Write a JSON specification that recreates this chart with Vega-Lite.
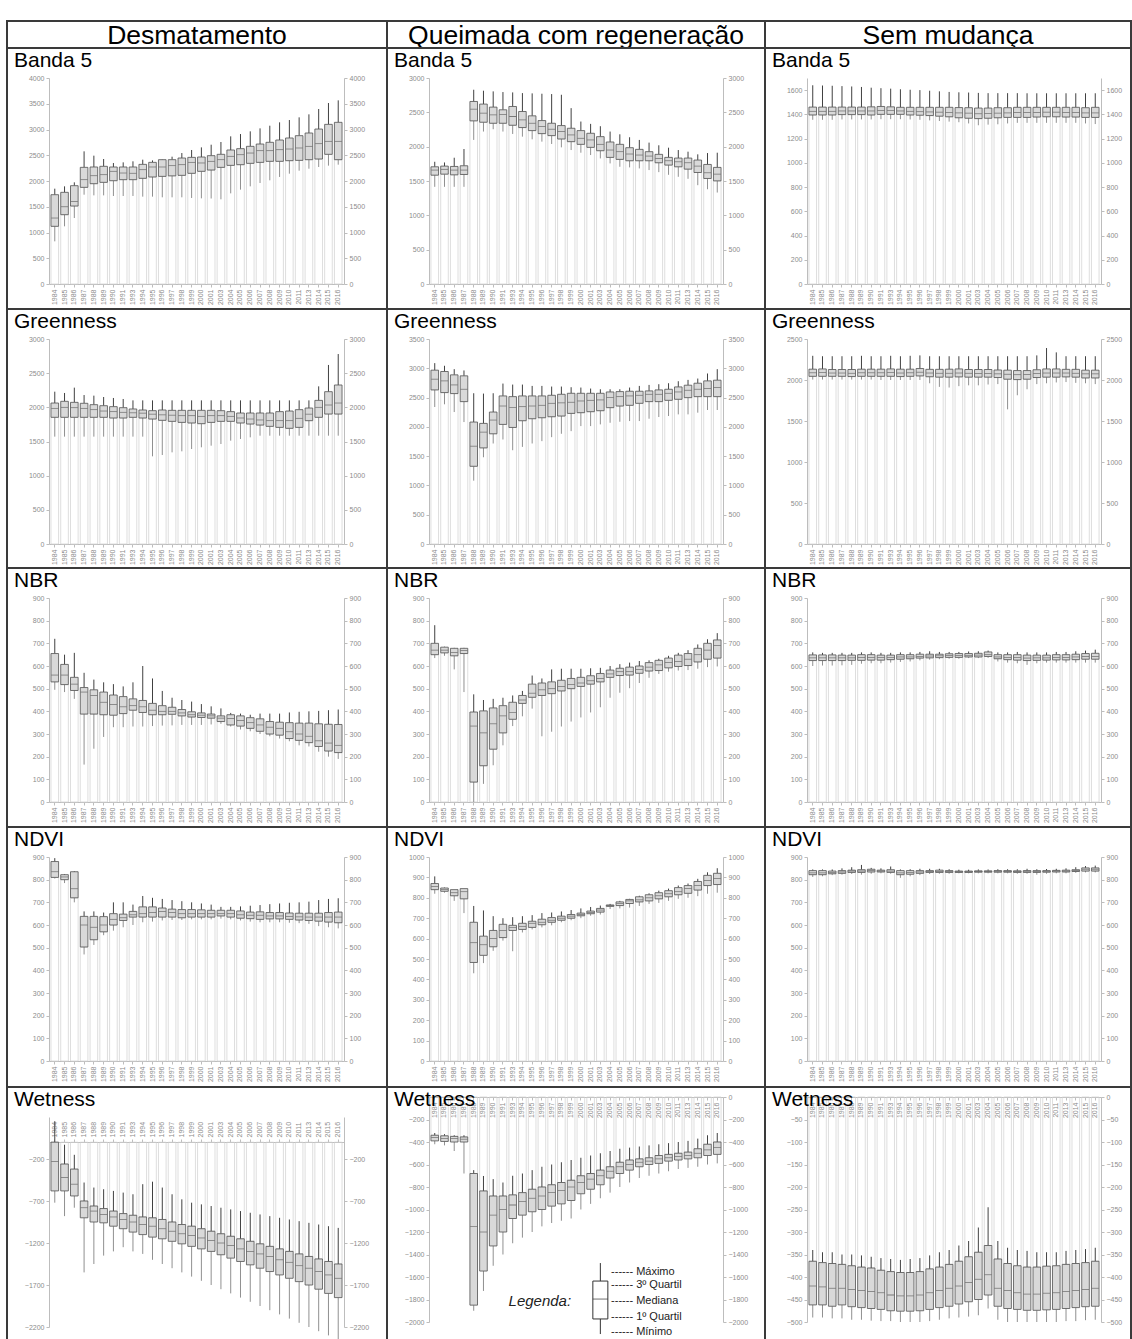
{
"$schema":"https://vega.github.io/schema/vega-lite/v6.json",
"background":"white",
"padding":{"left":6,"top":20,"right":0,"bottom":0},
"config":{
 "numberFormat":"d",
 "view":{"stroke":"#3a3a3a","strokeWidth":2},
 "axis":{"title":null,"labelFont":"Liberation Sans","labelFontSize":7,"labelColor":"#8c8c8c","domainColor":"#bdbdbd","tickColor":"#bdbdbd","tickSize":3,"gridColor":"#ececec","labelPadding":2,"labelOverlap":false},
 "axisX":{"labelAngle":-90,"grid":false},
 "axisY":{"grid":true},
 "title":{"font":"Liberation Sans","fontSize":21,"fontWeight":"normal","color":"#000000","anchor":"start","frame":"group","offset":-23,"baseline":"alphabetic","dx":7},
 "bar":{"fill":"#d9d9d9","stroke":"#505050","strokeWidth":0.8},
 "rule":{"color":"#404040"}
},
"datasets":{
"d1":[{"t":1984,"a":828,"b":1120,"m":1281,"c":1734,"x":1851},{"t":1985,"a":1120,"b":1346,"m":1500,"c":1780,"x":1896},{"t":1986,"a":1281,"b":1514,"m":1600,"c":1909,"x":1974},{"t":1987,"a":1734,"b":1877,"m":2026,"c":2265,"x":2576},{"t":1988,"a":1721,"b":1948,"m":2103,"c":2272,"x":2492},{"t":1989,"a":1721,"b":1974,"m":2123,"c":2285,"x":2427},{"t":1990,"a":1709,"b":2006,"m":2188,"c":2272,"x":2349},{"t":1991,"a":1709,"b":2026,"m":2155,"c":2272,"x":2362},{"t":1993,"a":1709,"b":2026,"m":2150,"c":2272,"x":2382},{"t":1994,"a":1696,"b":2052,"m":2220,"c":2323,"x":2414},{"t":1995,"a":1696,"b":2078,"m":2272,"c":2362,"x":2400},{"t":1996,"a":1683,"b":2090,"m":2272,"c":2414,"x":2420},{"t":1997,"a":1683,"b":2100,"m":2298,"c":2414,"x":2472},{"t":1998,"a":1683,"b":2110,"m":2317,"c":2446,"x":2543},{"t":1999,"a":1670,"b":2149,"m":2362,"c":2459,"x":2602},{"t":2000,"a":1663,"b":2188,"m":2350,"c":2466,"x":2653},{"t":2001,"a":1660,"b":2213,"m":2382,"c":2492,"x":2705},{"t":2003,"a":1644,"b":2265,"m":2414,"c":2518,"x":2757},{"t":2004,"a":1760,"b":2304,"m":2479,"c":2602,"x":2867},{"t":2005,"a":1832,"b":2317,"m":2511,"c":2628,"x":2912},{"t":2006,"a":1896,"b":2343,"m":2543,"c":2673,"x":2964},{"t":2007,"a":1961,"b":2362,"m":2589,"c":2718,"x":3022},{"t":2008,"a":2013,"b":2382,"m":2589,"c":2751,"x":3074},{"t":2009,"a":2078,"b":2382,"m":2608,"c":2796,"x":3139},{"t":2010,"a":2142,"b":2395,"m":2621,"c":2835,"x":3184},{"t":2011,"a":2200,"b":2401,"m":2641,"c":2880,"x":3236},{"t":2013,"a":2239,"b":2414,"m":2673,"c":2932,"x":3294},{"t":2014,"a":2272,"b":2427,"m":2725,"c":3009,"x":3398},{"t":2015,"a":2298,"b":2518,"m":2770,"c":3100,"x":3514},{"t":2016,"a":2317,"b":2414,"m":2770,"c":3139,"x":3566}],
"d2":[{"t":1984,"a":1415,"b":1585,"m":1659,"c":1707,"x":1780},{"t":1985,"a":1415,"b":1600,"m":1670,"c":1717,"x":1770},{"t":1986,"a":1415,"b":1590,"m":1659,"c":1712,"x":1839},{"t":1987,"a":1415,"b":1595,"m":1659,"c":1722,"x":1966},{"t":1988,"a":2098,"b":2376,"m":2546,"c":2658,"x":2829},{"t":1989,"a":2220,"b":2356,"m":2488,"c":2620,"x":2815},{"t":1990,"a":2254,"b":2341,"m":2463,"c":2576,"x":2805},{"t":1991,"a":2220,"b":2341,"m":2470,"c":2537,"x":2795},{"t":1993,"a":2185,"b":2312,"m":2439,"c":2585,"x":2790},{"t":1994,"a":2146,"b":2278,"m":2390,"c":2512,"x":2780},{"t":1995,"a":2107,"b":2234,"m":2341,"c":2449,"x":2776},{"t":1996,"a":2073,"b":2190,"m":2293,"c":2380,"x":2771},{"t":1997,"a":2039,"b":2161,"m":2254,"c":2341,"x":2766},{"t":1998,"a":1990,"b":2112,"m":2220,"c":2307,"x":2756},{"t":1999,"a":1951,"b":2073,"m":2171,"c":2268,"x":2561},{"t":2000,"a":1912,"b":2034,"m":2122,"c":2234,"x":2366},{"t":2001,"a":1878,"b":1990,"m":2098,"c":2195,"x":2332},{"t":2003,"a":1829,"b":1941,"m":2034,"c":2146,"x":2298},{"t":2004,"a":1756,"b":1844,"m":1951,"c":2068,"x":2220},{"t":2005,"a":1707,"b":1815,"m":1927,"c":2034,"x":2180},{"t":2006,"a":1698,"b":1795,"m":1893,"c":1985,"x":2137},{"t":2007,"a":1683,"b":1795,"m":1878,"c":1961,"x":2098},{"t":2008,"a":1659,"b":1795,"m":1863,"c":1927,"x":2059},{"t":2009,"a":1629,"b":1766,"m":1829,"c":1888,"x":2020},{"t":2010,"a":1590,"b":1732,"m":1795,"c":1844,"x":1985},{"t":2011,"a":1561,"b":1707,"m":1780,"c":1834,"x":1951},{"t":2013,"a":1532,"b":1673,"m":1766,"c":1834,"x":1927},{"t":2014,"a":1439,"b":1624,"m":1717,"c":1805,"x":1888},{"t":2015,"a":1380,"b":1537,"m":1620,"c":1741,"x":1907},{"t":2016,"a":1332,"b":1502,"m":1600,"c":1698,"x":1912}],
"d3":[{"t":1984,"a":1355,"b":1395,"m":1425,"c":1460,"x":1640},{"t":1985,"a":1355,"b":1395,"m":1425,"c":1460,"x":1638},{"t":1986,"a":1355,"b":1395,"m":1425,"c":1460,"x":1636},{"t":1987,"a":1358,"b":1398,"m":1428,"c":1460,"x":1633},{"t":1988,"a":1358,"b":1398,"m":1428,"c":1460,"x":1630},{"t":1989,"a":1358,"b":1398,"m":1428,"c":1460,"x":1626},{"t":1990,"a":1358,"b":1395,"m":1428,"c":1462,"x":1620},{"t":1991,"a":1360,"b":1400,"m":1432,"c":1465,"x":1616},{"t":1993,"a":1360,"b":1400,"m":1430,"c":1462,"x":1612},{"t":1994,"a":1360,"b":1400,"m":1428,"c":1458,"x":1607},{"t":1995,"a":1358,"b":1395,"m":1425,"c":1458,"x":1603},{"t":1996,"a":1355,"b":1393,"m":1422,"c":1458,"x":1600},{"t":1997,"a":1350,"b":1390,"m":1420,"c":1458,"x":1595},{"t":1998,"a":1345,"b":1385,"m":1418,"c":1458,"x":1590},{"t":1999,"a":1340,"b":1380,"m":1415,"c":1458,"x":1585},{"t":2000,"a":1335,"b":1372,"m":1412,"c":1456,"x":1582},{"t":2001,"a":1325,"b":1368,"m":1410,"c":1455,"x":1580},{"t":2003,"a":1310,"b":1365,"m":1405,"c":1452,"x":1577},{"t":2004,"a":1315,"b":1368,"m":1408,"c":1452,"x":1575},{"t":2005,"a":1318,"b":1372,"m":1410,"c":1455,"x":1575},{"t":2006,"a":1325,"b":1375,"m":1412,"c":1455,"x":1575},{"t":2007,"a":1330,"b":1375,"m":1415,"c":1458,"x":1575},{"t":2008,"a":1330,"b":1375,"m":1415,"c":1458,"x":1574},{"t":2009,"a":1330,"b":1378,"m":1415,"c":1458,"x":1574},{"t":2010,"a":1330,"b":1380,"m":1418,"c":1458,"x":1574},{"t":2011,"a":1330,"b":1380,"m":1418,"c":1458,"x":1574},{"t":2013,"a":1330,"b":1378,"m":1415,"c":1458,"x":1574},{"t":2014,"a":1330,"b":1378,"m":1415,"c":1458,"x":1574},{"t":2015,"a":1325,"b":1375,"m":1412,"c":1455,"x":1574},{"t":2016,"a":1320,"b":1375,"m":1412,"c":1458,"x":1574}],
"d4":[{"t":1984,"a":1571,"b":1854,"m":1985,"c":2063,"x":2229},{"t":1985,"a":1571,"b":1854,"m":2000,"c":2088,"x":2210},{"t":1986,"a":1571,"b":1854,"m":1995,"c":2073,"x":2288},{"t":1987,"a":1571,"b":1854,"m":1985,"c":2059,"x":2180},{"t":1988,"a":1571,"b":1854,"m":1966,"c":2039,"x":2171},{"t":1989,"a":1571,"b":1854,"m":1946,"c":2024,"x":2151},{"t":1990,"a":1571,"b":1844,"m":1937,"c":2010,"x":2137},{"t":1991,"a":1571,"b":1844,"m":1927,"c":1995,"x":2122},{"t":1993,"a":1571,"b":1854,"m":1920,"c":1976,"x":2102},{"t":1994,"a":1571,"b":1844,"m":1915,"c":1961,"x":2102},{"t":1995,"a":1283,"b":1829,"m":1900,"c":1951,"x":2102},{"t":1996,"a":1302,"b":1810,"m":1890,"c":1961,"x":2102},{"t":1997,"a":1341,"b":1795,"m":1885,"c":1956,"x":2102},{"t":1998,"a":1356,"b":1780,"m":1878,"c":1956,"x":2102},{"t":1999,"a":1390,"b":1771,"m":1878,"c":1956,"x":2102},{"t":2000,"a":1415,"b":1761,"m":1868,"c":1956,"x":2102},{"t":2001,"a":1439,"b":1780,"m":1878,"c":1956,"x":2102},{"t":2003,"a":1463,"b":1795,"m":1878,"c":1951,"x":2102},{"t":2004,"a":1512,"b":1795,"m":1868,"c":1937,"x":2102},{"t":2005,"a":1537,"b":1771,"m":1844,"c":1917,"x":2102},{"t":2006,"a":1561,"b":1756,"m":1829,"c":1917,"x":2102},{"t":2007,"a":1585,"b":1741,"m":1815,"c":1917,"x":2102},{"t":2008,"a":1585,"b":1722,"m":1805,"c":1917,"x":2102},{"t":2009,"a":1585,"b":1707,"m":1805,"c":1937,"x":2102},{"t":2010,"a":1585,"b":1693,"m":1805,"c":1946,"x":2102},{"t":2011,"a":1585,"b":1707,"m":1839,"c":1966,"x":2102},{"t":2013,"a":1585,"b":1805,"m":1900,"c":1990,"x":2102},{"t":2014,"a":1585,"b":1854,"m":2000,"c":2102,"x":2307},{"t":2015,"a":1585,"b":1902,"m":2034,"c":2229,"x":2620},{"t":2016,"a":1585,"b":1902,"m":2063,"c":2327,"x":2780}],
"d5":[{"t":1984,"a":2339,"b":2631,"m":2814,"c":2968,"x":3088},{"t":1985,"a":2385,"b":2585,"m":2785,"c":2945,"x":3043},{"t":1986,"a":2253,"b":2568,"m":2716,"c":2888,"x":2985},{"t":1987,"a":2082,"b":2431,"m":2642,"c":2871,"x":2963},{"t":1988,"a":1081,"b":1327,"m":1670,"c":2082,"x":2574},{"t":1989,"a":1481,"b":1641,"m":1910,"c":2059,"x":2568},{"t":1990,"a":1716,"b":1882,"m":2116,"c":2253,"x":2574},{"t":1991,"a":1784,"b":2042,"m":2356,"c":2528,"x":2739},{"t":1993,"a":1601,"b":1990,"m":2328,"c":2516,"x":2722},{"t":1994,"a":1658,"b":2105,"m":2345,"c":2528,"x":2722},{"t":1995,"a":1716,"b":2139,"m":2356,"c":2528,"x":2699},{"t":1996,"a":1756,"b":2156,"m":2368,"c":2528,"x":2699},{"t":1997,"a":1824,"b":2173,"m":2402,"c":2539,"x":2688},{"t":1998,"a":1882,"b":2185,"m":2410,"c":2556,"x":2688},{"t":1999,"a":1927,"b":2230,"m":2420,"c":2573,"x":2677},{"t":2000,"a":2013,"b":2242,"m":2442,"c":2573,"x":2671},{"t":2001,"a":2013,"b":2259,"m":2453,"c":2573,"x":2654},{"t":2003,"a":2042,"b":2276,"m":2460,"c":2573,"x":2642},{"t":2004,"a":2070,"b":2328,"m":2499,"c":2596,"x":2642},{"t":2005,"a":2087,"b":2356,"m":2516,"c":2602,"x":2642},{"t":2006,"a":2099,"b":2368,"m":2528,"c":2608,"x":2671},{"t":2007,"a":2099,"b":2402,"m":2539,"c":2608,"x":2699},{"t":2008,"a":2139,"b":2431,"m":2556,"c":2614,"x":2716},{"t":2009,"a":2168,"b":2431,"m":2556,"c":2631,"x":2728},{"t":2010,"a":2185,"b":2453,"m":2573,"c":2642,"x":2745},{"t":2011,"a":2213,"b":2471,"m":2596,"c":2682,"x":2779},{"t":2013,"a":2213,"b":2499,"m":2625,"c":2711,"x":2802},{"t":2014,"a":2242,"b":2516,"m":2642,"c":2745,"x":2825},{"t":2015,"a":2288,"b":2516,"m":2654,"c":2785,"x":2911},{"t":2016,"a":2288,"b":2516,"m":2671,"c":2797,"x":2985}],
"d6":[{"t":1984,"a":2005,"b":2045,"m":2088,"c":2132,"x":2295},{"t":1985,"a":2005,"b":2045,"m":2090,"c":2135,"x":2290},{"t":1986,"a":2005,"b":2045,"m":2085,"c":2128,"x":2290},{"t":1987,"a":2005,"b":2045,"m":2085,"c":2128,"x":2290},{"t":1988,"a":2005,"b":2042,"m":2082,"c":2128,"x":2290},{"t":1989,"a":2005,"b":2045,"m":2088,"c":2132,"x":2295},{"t":1990,"a":2005,"b":2045,"m":2088,"c":2132,"x":2290},{"t":1991,"a":2000,"b":2045,"m":2088,"c":2132,"x":2290},{"t":1993,"a":2000,"b":2045,"m":2090,"c":2135,"x":2295},{"t":1994,"a":2000,"b":2042,"m":2085,"c":2132,"x":2290},{"t":1995,"a":2000,"b":2045,"m":2088,"c":2132,"x":2295},{"t":1996,"a":2000,"b":2050,"m":2095,"c":2140,"x":2300},{"t":1997,"a":1960,"b":2040,"m":2085,"c":2130,"x":2290},{"t":1998,"a":1916,"b":2035,"m":2082,"c":2130,"x":2290},{"t":1999,"a":1908,"b":2035,"m":2082,"c":2132,"x":2290},{"t":2000,"a":1925,"b":2038,"m":2085,"c":2135,"x":2290},{"t":2001,"a":1935,"b":2035,"m":2082,"c":2128,"x":2290},{"t":2003,"a":1935,"b":2035,"m":2080,"c":2128,"x":2290},{"t":2004,"a":1945,"b":2035,"m":2080,"c":2128,"x":2290},{"t":2005,"a":1950,"b":2030,"m":2075,"c":2122,"x":2290},{"t":2006,"a":1642,"b":2010,"m":2070,"c":2120,"x":2290},{"t":2007,"a":1814,"b":2005,"m":2065,"c":2115,"x":2290},{"t":2008,"a":1887,"b":2010,"m":2068,"c":2115,"x":2290},{"t":2009,"a":1950,"b":2030,"m":2078,"c":2125,"x":2300},{"t":2010,"a":1960,"b":2035,"m":2085,"c":2135,"x":2390},{"t":2011,"a":1970,"b":2035,"m":2085,"c":2135,"x":2337},{"t":2013,"a":1975,"b":2038,"m":2085,"c":2130,"x":2290},{"t":2014,"a":1965,"b":2035,"m":2082,"c":2130,"x":2290},{"t":2015,"a":1960,"b":2025,"m":2075,"c":2120,"x":2290},{"t":2016,"a":1950,"b":2025,"m":2075,"c":2120,"x":2290}],
"d7":[{"t":1984,"a":495,"b":530,"m":560,"c":655,"x":720},{"t":1985,"a":485,"b":518,"m":560,"c":607,"x":650},{"t":1986,"a":455,"b":492,"m":520,"c":550,"x":658},{"t":1987,"a":165,"b":388,"m":485,"c":505,"x":570},{"t":1988,"a":235,"b":388,"m":470,"c":495,"x":540},{"t":1989,"a":287,"b":385,"m":440,"c":485,"x":528},{"t":1990,"a":330,"b":383,"m":430,"c":472,"x":520},{"t":1991,"a":330,"b":390,"m":420,"c":465,"x":510},{"t":1993,"a":333,"b":405,"m":425,"c":455,"x":528},{"t":1994,"a":333,"b":395,"m":420,"c":448,"x":600},{"t":1995,"a":335,"b":385,"m":405,"c":435,"x":545},{"t":1996,"a":337,"b":385,"m":400,"c":425,"x":490},{"t":1997,"a":338,"b":387,"m":400,"c":418,"x":460},{"t":1998,"a":340,"b":380,"m":393,"c":408,"x":450},{"t":1999,"a":340,"b":375,"m":385,"c":398,"x":443},{"t":2000,"a":340,"b":373,"m":383,"c":393,"x":432},{"t":2001,"a":342,"b":370,"m":380,"c":388,"x":422},{"t":2003,"a":345,"b":355,"m":370,"c":380,"x":413},{"t":2004,"a":333,"b":340,"m":368,"c":385,"x":393},{"t":2005,"a":320,"b":335,"m":360,"c":380,"x":390},{"t":2006,"a":312,"b":325,"m":350,"c":372,"x":385},{"t":2007,"a":300,"b":312,"m":340,"c":367,"x":390},{"t":2008,"a":290,"b":300,"m":330,"c":355,"x":390},{"t":2009,"a":280,"b":295,"m":325,"c":352,"x":390},{"t":2010,"a":268,"b":280,"m":310,"c":350,"x":395},{"t":2011,"a":250,"b":272,"m":300,"c":348,"x":398},{"t":2013,"a":245,"b":262,"m":290,"c":348,"x":400},{"t":2014,"a":222,"b":245,"m":270,"c":345,"x":402},{"t":2015,"a":200,"b":225,"m":260,"c":343,"x":405},{"t":2016,"a":190,"b":218,"m":250,"c":342,"x":408}],
"d8":[{"t":1984,"a":635,"b":650,"m":670,"c":700,"x":780},{"t":1985,"a":645,"b":658,"m":670,"c":683,"x":685},{"t":1986,"a":585,"b":645,"m":660,"c":678,"x":680},{"t":1987,"a":485,"b":655,"m":668,"c":678,"x":680},{"t":1988,"a":0,"b":88,"m":335,"c":397,"x":475},{"t":1989,"a":80,"b":160,"m":305,"c":402,"x":450},{"t":1990,"a":162,"b":233,"m":345,"c":415,"x":455},{"t":1991,"a":250,"b":305,"m":380,"c":425,"x":460},{"t":1993,"a":335,"b":365,"m":395,"c":440,"x":470},{"t":1994,"a":378,"b":435,"m":450,"c":470,"x":490},{"t":1995,"a":412,"b":462,"m":480,"c":520,"x":558},{"t":1996,"a":290,"b":470,"m":495,"c":525,"x":545},{"t":1997,"a":310,"b":478,"m":500,"c":530,"x":585},{"t":1998,"a":333,"b":490,"m":510,"c":537,"x":588},{"t":1999,"a":355,"b":500,"m":518,"c":545,"x":588},{"t":2000,"a":373,"b":510,"m":525,"c":550,"x":588},{"t":2001,"a":395,"b":520,"m":535,"c":557,"x":590},{"t":2003,"a":418,"b":530,"m":545,"c":567,"x":592},{"t":2004,"a":460,"b":550,"m":565,"c":582,"x":600},{"t":2005,"a":482,"b":558,"m":575,"c":590,"x":608},{"t":2006,"a":502,"b":560,"m":575,"c":595,"x":615},{"t":2007,"a":525,"b":568,"m":585,"c":600,"x":622},{"t":2008,"a":548,"b":578,"m":595,"c":615,"x":625},{"t":2009,"a":565,"b":580,"m":605,"c":625,"x":632},{"t":2010,"a":575,"b":592,"m":615,"c":635,"x":645},{"t":2011,"a":580,"b":598,"m":620,"c":648,"x":658},{"t":2013,"a":582,"b":602,"m":630,"c":655,"x":670},{"t":2014,"a":588,"b":618,"m":650,"c":678,"x":695},{"t":2015,"a":595,"b":630,"m":670,"c":700,"x":718},{"t":2016,"a":598,"b":635,"m":690,"c":715,"x":745}],
"d9":[{"t":1984,"a":600,"b":624,"m":636,"c":649,"x":660},{"t":1985,"a":602,"b":624,"m":636,"c":649,"x":658},{"t":1986,"a":602,"b":624,"m":636,"c":649,"x":658},{"t":1987,"a":603,"b":624,"m":636,"c":648,"x":658},{"t":1988,"a":605,"b":625,"m":636,"c":648,"x":658},{"t":1989,"a":610,"b":625,"m":637,"c":650,"x":660},{"t":1990,"a":612,"b":626,"m":637,"c":650,"x":660},{"t":1991,"a":612,"b":626,"m":637,"c":648,"x":658},{"t":1993,"a":615,"b":628,"m":638,"c":648,"x":658},{"t":1994,"a":618,"b":630,"m":640,"c":650,"x":660},{"t":1995,"a":620,"b":632,"m":640,"c":650,"x":660},{"t":1996,"a":625,"b":635,"m":642,"c":652,"x":662},{"t":1997,"a":628,"b":636,"m":644,"c":652,"x":665},{"t":1998,"a":630,"b":637,"m":645,"c":652,"x":662},{"t":1999,"a":632,"b":638,"m":646,"c":654,"x":662},{"t":2000,"a":632,"b":638,"m":646,"c":655,"x":662},{"t":2001,"a":635,"b":640,"m":647,"c":655,"x":664},{"t":2003,"a":635,"b":640,"m":648,"c":656,"x":665},{"t":2004,"a":636,"b":642,"m":650,"c":662,"x":668},{"t":2005,"a":620,"b":632,"m":640,"c":650,"x":660},{"t":2006,"a":615,"b":628,"m":638,"c":650,"x":660},{"t":2007,"a":612,"b":626,"m":637,"c":650,"x":662},{"t":2008,"a":605,"b":624,"m":635,"c":648,"x":660},{"t":2009,"a":612,"b":625,"m":636,"c":648,"x":660},{"t":2010,"a":615,"b":626,"m":636,"c":648,"x":660},{"t":2011,"a":615,"b":627,"m":638,"c":650,"x":662},{"t":2013,"a":615,"b":627,"m":638,"c":650,"x":662},{"t":2014,"a":615,"b":628,"m":640,"c":652,"x":665},{"t":2015,"a":615,"b":630,"m":642,"c":655,"x":668},{"t":2016,"a":615,"b":630,"m":642,"c":656,"x":672}],
"d10":[{"t":1984,"a":805,"b":810,"m":835,"c":880,"x":895},{"t":1985,"a":785,"b":800,"m":812,"c":822,"x":825},{"t":1986,"a":700,"b":720,"m":760,"c":835,"x":838},{"t":1987,"a":470,"b":503,"m":600,"c":638,"x":660},{"t":1988,"a":512,"b":535,"m":590,"c":638,"x":660},{"t":1989,"a":555,"b":570,"m":600,"c":637,"x":655},{"t":1990,"a":575,"b":600,"m":625,"c":650,"x":700},{"t":1991,"a":590,"b":620,"m":632,"c":648,"x":700},{"t":1993,"a":600,"b":635,"m":645,"c":660,"x":690},{"t":1994,"a":612,"b":635,"m":650,"c":680,"x":728},{"t":1995,"a":615,"b":635,"m":655,"c":680,"x":720},{"t":1996,"a":620,"b":635,"m":660,"c":675,"x":715},{"t":1997,"a":622,"b":635,"m":655,"c":670,"x":710},{"t":1998,"a":622,"b":632,"m":650,"c":668,"x":705},{"t":1999,"a":625,"b":635,"m":650,"c":668,"x":700},{"t":2000,"a":625,"b":635,"m":650,"c":667,"x":695},{"t":2001,"a":625,"b":635,"m":650,"c":665,"x":690},{"t":2003,"a":628,"b":640,"m":650,"c":665,"x":680},{"t":2004,"a":625,"b":635,"m":650,"c":665,"x":680},{"t":2005,"a":620,"b":630,"m":645,"c":662,"x":682},{"t":2006,"a":615,"b":628,"m":643,"c":657,"x":685},{"t":2007,"a":612,"b":625,"m":643,"c":658,"x":688},{"t":2008,"a":612,"b":627,"m":640,"c":655,"x":692},{"t":2009,"a":612,"b":627,"m":640,"c":655,"x":695},{"t":2010,"a":610,"b":625,"m":638,"c":653,"x":698},{"t":2011,"a":608,"b":622,"m":636,"c":652,"x":700},{"t":2013,"a":605,"b":620,"m":635,"c":652,"x":703},{"t":2014,"a":595,"b":617,"m":635,"c":652,"x":710},{"t":2015,"a":590,"b":613,"m":635,"c":655,"x":715},{"t":2016,"a":585,"b":610,"m":635,"c":657,"x":718}],
"d11":[{"t":1984,"a":820,"b":840,"m":855,"c":870,"x":905},{"t":1985,"a":825,"b":832,"m":840,"c":848,"x":850},{"t":1986,"a":785,"b":810,"m":825,"c":840,"x":840},{"t":1987,"a":725,"b":795,"m":830,"c":845,"x":845},{"t":1988,"a":430,"b":483,"m":580,"c":680,"x":760},{"t":1989,"a":480,"b":518,"m":570,"c":612,"x":738},{"t":1990,"a":540,"b":560,"m":600,"c":640,"x":710},{"t":1991,"a":590,"b":605,"m":640,"c":670,"x":700},{"t":1993,"a":538,"b":640,"m":655,"c":665,"x":705},{"t":1994,"a":630,"b":645,"m":660,"c":675,"x":710},{"t":1995,"a":645,"b":655,"m":675,"c":685,"x":715},{"t":1996,"a":655,"b":668,"m":680,"c":695,"x":725},{"t":1997,"a":665,"b":680,"m":690,"c":703,"x":728},{"t":1998,"a":680,"b":690,"m":700,"c":710,"x":733},{"t":1999,"a":690,"b":700,"m":710,"c":718,"x":740},{"t":2000,"a":700,"b":712,"m":718,"c":725,"x":748},{"t":2001,"a":712,"b":722,"m":728,"c":735,"x":755},{"t":2003,"a":718,"b":730,"m":740,"c":748,"x":762},{"t":2004,"a":745,"b":758,"m":762,"c":765,"x":770},{"t":2005,"a":748,"b":762,"m":772,"c":780,"x":785},{"t":2006,"a":752,"b":772,"m":785,"c":792,"x":795},{"t":2007,"a":760,"b":780,"m":790,"c":805,"x":810},{"t":2008,"a":770,"b":785,"m":800,"c":815,"x":822},{"t":2009,"a":775,"b":795,"m":810,"c":825,"x":835},{"t":2010,"a":785,"b":805,"m":820,"c":835,"x":845},{"t":2011,"a":795,"b":815,"m":830,"c":850,"x":860},{"t":2013,"a":800,"b":822,"m":845,"c":860,"x":870},{"t":2014,"a":808,"b":838,"m":860,"c":880,"x":893},{"t":2015,"a":820,"b":860,"m":885,"c":910,"x":925},{"t":2016,"a":825,"b":865,"m":895,"c":920,"x":945}],
"d12":[{"t":1984,"a":812,"b":822,"m":830,"c":840,"x":845},{"t":1985,"a":815,"b":822,"m":830,"c":840,"x":845},{"t":1986,"a":820,"b":826,"m":832,"c":838,"x":845},{"t":1987,"a":822,"b":828,"m":834,"c":840,"x":850},{"t":1988,"a":825,"b":832,"m":838,"c":842,"x":855},{"t":1989,"a":822,"b":832,"m":838,"c":844,"x":865},{"t":1990,"a":826,"b":834,"m":840,"c":846,"x":852},{"t":1991,"a":828,"b":834,"m":838,"c":842,"x":850},{"t":1993,"a":826,"b":832,"m":838,"c":844,"x":858},{"t":1994,"a":808,"b":822,"m":830,"c":840,"x":845},{"t":1995,"a":815,"b":824,"m":832,"c":840,"x":846},{"t":1996,"a":820,"b":828,"m":834,"c":840,"x":848},{"t":1997,"a":825,"b":832,"m":836,"c":840,"x":848},{"t":1998,"a":826,"b":832,"m":836,"c":842,"x":848},{"t":1999,"a":826,"b":832,"m":836,"c":840,"x":846},{"t":2000,"a":828,"b":832,"m":835,"c":838,"x":844},{"t":2001,"a":828,"b":832,"m":835,"c":838,"x":844},{"t":2003,"a":828,"b":833,"m":836,"c":839,"x":845},{"t":2004,"a":828,"b":833,"m":836,"c":839,"x":845},{"t":2005,"a":828,"b":833,"m":837,"c":840,"x":846},{"t":2006,"a":828,"b":833,"m":836,"c":840,"x":846},{"t":2007,"a":826,"b":832,"m":836,"c":839,"x":846},{"t":2008,"a":826,"b":832,"m":837,"c":840,"x":848},{"t":2009,"a":822,"b":832,"m":836,"c":840,"x":846},{"t":2010,"a":826,"b":833,"m":837,"c":840,"x":847},{"t":2011,"a":828,"b":834,"m":838,"c":841,"x":848},{"t":2013,"a":828,"b":834,"m":838,"c":842,"x":850},{"t":2014,"a":830,"b":836,"m":840,"c":844,"x":855},{"t":2015,"a":832,"b":838,"m":846,"c":852,"x":860},{"t":2016,"a":832,"b":838,"m":846,"c":852,"x":862}],
"d13":[{"t":1984,"a":-720,"b":-580,"m":-230,"c":0,"x":250},{"t":1985,"a":-880,"b":-580,"m":-420,"c":-260,"x":-30},{"t":1986,"a":-780,"b":-640,"m":-500,"c":-320,"x":-150},{"t":1987,"a":-1550,"b":-900,"m":-780,"c":-700,"x":-480},{"t":1988,"a":-1450,"b":-950,"m":-820,"c":-760,"x":-540},{"t":1989,"a":-1350,"b":-960,"m":-860,"c":-790,"x":-560},{"t":1990,"a":-1300,"b":-1000,"m":-890,"c":-820,"x":-580},{"t":1991,"a":-1250,"b":-1030,"m":-920,"c":-850,"x":-600},{"t":1993,"a":-1300,"b":-1070,"m":-950,"c":-870,"x":-620},{"t":1994,"a":-1330,"b":-1100,"m":-980,"c":-890,"x":-500},{"t":1995,"a":-1400,"b":-1130,"m":-1000,"c":-900,"x":-470},{"t":1996,"a":-1450,"b":-1150,"m":-1030,"c":-920,"x":-540},{"t":1997,"a":-1500,"b":-1180,"m":-1060,"c":-950,"x":-620},{"t":1998,"a":-1550,"b":-1210,"m":-1090,"c":-980,"x":-680},{"t":1999,"a":-1600,"b":-1240,"m":-1110,"c":-1000,"x":-720},{"t":2000,"a":-1650,"b":-1270,"m":-1140,"c":-1030,"x":-740},{"t":2001,"a":-1700,"b":-1300,"m":-1170,"c":-1060,"x":-760},{"t":2003,"a":-1750,"b":-1340,"m":-1200,"c":-1090,"x":-780},{"t":2004,"a":-1800,"b":-1380,"m":-1230,"c":-1120,"x":-800},{"t":2005,"a":-1850,"b":-1420,"m":-1270,"c":-1150,"x":-820},{"t":2006,"a":-1900,"b":-1460,"m":-1300,"c":-1180,"x":-840},{"t":2007,"a":-1950,"b":-1500,"m":-1330,"c":-1210,"x":-860},{"t":2008,"a":-2000,"b":-1540,"m":-1360,"c":-1240,"x":-880},{"t":2009,"a":-2050,"b":-1580,"m":-1400,"c":-1270,"x":-900},{"t":2010,"a":-2100,"b":-1620,"m":-1430,"c":-1300,"x":-920},{"t":2011,"a":-2150,"b":-1660,"m":-1470,"c":-1330,"x":-940},{"t":2013,"a":-2200,"b":-1700,"m":-1500,"c":-1360,"x":-960},{"t":2014,"a":-2250,"b":-1750,"m":-1540,"c":-1390,"x":-980},{"t":2015,"a":-2300,"b":-1800,"m":-1580,"c":-1420,"x":-1000},{"t":2016,"a":-2350,"b":-1850,"m":-1620,"c":-1450,"x":-1020}],
"d14":[{"t":1984,"a":-420,"b":-390,"m":-360,"c":-340,"x":-320},{"t":1985,"a":-430,"b":-395,"m":-370,"c":-345,"x":-330},{"t":1986,"a":-480,"b":-400,"m":-370,"c":-350,"x":-340},{"t":1987,"a":-680,"b":-400,"m":-375,"c":-355,"x":-340},{"t":1988,"a":-1900,"b":-1850,"m":-1150,"c":-680,"x":-650},{"t":1989,"a":-1724,"b":-1547,"m":-1200,"c":-835,"x":-702},{"t":1990,"a":-1500,"b":-1324,"m":-1050,"c":-880,"x":-730},{"t":1991,"a":-1400,"b":-1200,"m":-1000,"c":-880,"x":-760},{"t":1993,"a":-1300,"b":-1080,"m":-960,"c":-870,"x":-700},{"t":1994,"a":-1250,"b":-1050,"m":-930,"c":-850,"x":-680},{"t":1995,"a":-1200,"b":-1020,"m":-900,"c":-820,"x":-650},{"t":1996,"a":-1150,"b":-1000,"m":-880,"c":-800,"x":-620},{"t":1997,"a":-1120,"b":-970,"m":-850,"c":-780,"x":-600},{"t":1998,"a":-1100,"b":-950,"m":-830,"c":-760,"x":-580},{"t":1999,"a":-1080,"b":-920,"m":-800,"c":-740,"x":-560},{"t":2000,"a":-1000,"b":-860,"m":-760,"c":-700,"x":-540},{"t":2001,"a":-950,"b":-820,"m":-730,"c":-680,"x":-520},{"t":2003,"a":-900,"b":-780,"m":-700,"c":-650,"x":-500},{"t":2004,"a":-850,"b":-720,"m":-660,"c":-620,"x":-480},{"t":2005,"a":-800,"b":-680,"m":-620,"c":-580,"x":-460},{"t":2006,"a":-760,"b":-650,"m":-600,"c":-560,"x":-450},{"t":2007,"a":-720,"b":-620,"m":-580,"c":-550,"x":-440},{"t":2008,"a":-700,"b":-600,"m":-570,"c":-540,"x":-430},{"t":2009,"a":-680,"b":-590,"m":-550,"c":-520,"x":-420},{"t":2010,"a":-660,"b":-570,"m":-540,"c":-510,"x":-410},{"t":2011,"a":-640,"b":-560,"m":-530,"c":-500,"x":-400},{"t":2013,"a":-630,"b":-550,"m":-520,"c":-490,"x":-390},{"t":2014,"a":-620,"b":-540,"m":-500,"c":-460,"x":-370},{"t":2015,"a":-600,"b":-520,"m":-470,"c":-420,"x":-340},{"t":2016,"a":-590,"b":-510,"m":-450,"c":-400,"x":-320}],
"d15":[{"t":1984,"a":-490,"b":-462,"m":-420,"c":-365,"x":-340},{"t":1985,"a":-490,"b":-462,"m":-422,"c":-368,"x":-345},{"t":1986,"a":-492,"b":-465,"m":-425,"c":-370,"x":-345},{"t":1987,"a":-492,"b":-462,"m":-425,"c":-372,"x":-350},{"t":1988,"a":-495,"b":-466,"m":-428,"c":-375,"x":-350},{"t":1989,"a":-495,"b":-468,"m":-430,"c":-378,"x":-352},{"t":1990,"a":-497,"b":-470,"m":-432,"c":-380,"x":-355},{"t":1991,"a":-498,"b":-472,"m":-435,"c":-385,"x":-358},{"t":1993,"a":-498,"b":-475,"m":-440,"c":-388,"x":-360},{"t":1994,"a":-500,"b":-476,"m":-442,"c":-390,"x":-362},{"t":1995,"a":-500,"b":-476,"m":-442,"c":-390,"x":-360},{"t":1996,"a":-500,"b":-475,"m":-440,"c":-388,"x":-358},{"t":1997,"a":-498,"b":-472,"m":-435,"c":-382,"x":-352},{"t":1998,"a":-495,"b":-468,"m":-430,"c":-378,"x":-345},{"t":1999,"a":-492,"b":-465,"m":-425,"c":-372,"x":-340},{"t":2000,"a":-490,"b":-460,"m":-420,"c":-365,"x":-330},{"t":2001,"a":-488,"b":-455,"m":-412,"c":-355,"x":-320},{"t":2003,"a":-485,"b":-450,"m":-405,"c":-345,"x":-290},{"t":2004,"a":-470,"b":-440,"m":-395,"c":-330,"x":-245},{"t":2005,"a":-495,"b":-465,"m":-425,"c":-360,"x":-320},{"t":2006,"a":-500,"b":-470,"m":-430,"c":-370,"x":-335},{"t":2007,"a":-500,"b":-472,"m":-435,"c":-375,"x":-340},{"t":2008,"a":-500,"b":-474,"m":-438,"c":-378,"x":-342},{"t":2009,"a":-500,"b":-474,"m":-438,"c":-378,"x":-345},{"t":2010,"a":-500,"b":-473,"m":-436,"c":-376,"x":-345},{"t":2011,"a":-500,"b":-472,"m":-435,"c":-375,"x":-345},{"t":2013,"a":-498,"b":-470,"m":-432,"c":-372,"x":-342},{"t":2014,"a":-498,"b":-468,"m":-430,"c":-370,"x":-340},{"t":2015,"a":-496,"b":-466,"m":-428,"c":-368,"x":-338},{"t":2016,"a":-495,"b":-465,"m":-425,"c":-365,"x":-335}],
"legb":[{"t":2003,"a":-2107,"b":-1973,"m":-1796,"c":-1636,"x":-1476}],
"legh":[{"t":1999,"v":-1813,"s":"Legenda:"}],
"legl":[{"t":2004,"v":-1556,"s":"------ Máximo"},{"t":2004,"v":-1671,"s":"------ 3º Quartil"},{"t":2004,"v":-1813,"s":"------ Mediana"},{"t":2004,"v":-1956,"s":"------ 1º Quartil"},{"t":2004,"v":-2089,"s":"------ Mínimo"}]
},
"columns":3,
"spacing":0,
"align":"each",
"bounds":"flush",
"concat":[
{"width":380,"height":27,"data":{"values":[{"s":"Desmatamento"}]},"layer":[{"mark":{"type":"rect","fillOpacity":0,"stroke":"#3a3a3a","strokeWidth":2}},{"mark":{"type":"text","font":"Liberation Sans","fontSize":26.5,"color":"#000000","dy":1},"encoding":{"text":{"field":"s","type":"nominal"}}}]},
{"width":378,"height":27,"data":{"values":[{"s":"Queimada com regeneração"}]},"layer":[{"mark":{"type":"rect","fillOpacity":0,"stroke":"#3a3a3a","strokeWidth":2}},{"mark":{"type":"text","font":"Liberation Sans","fontSize":26.5,"color":"#000000","dy":1},"encoding":{"text":{"field":"s","type":"nominal"}}}]},
{"width":366,"height":27,"data":{"values":[{"s":"Sem mudança"}]},"layer":[{"mark":{"type":"rect","fillOpacity":0,"stroke":"#3a3a3a","strokeWidth":2}},{"mark":{"type":"text","font":"Liberation Sans","fontSize":26.5,"color":"#000000","dy":1},"encoding":{"text":{"field":"s","type":"nominal"}}}]},

{"width":380,"height":261,"data":{"name":"d1"},"title":"Banda 5",
"encoding":{"x":{"field":"t","type":"ordinal","scale":{"range":[42,337],"paddingInner":0.22,"paddingOuter":0.2},"axis":{"offset":-25}}},
"layer":[
{"mark":{"type":"bar","fillOpacity":0,"stroke":"#d0d0d0","strokeWidth":0.7},"encoding":{"y":{"field":"b","type":"quantitative","axis":null}}},
{"mark":{"type":"rule","color":"#909090"},"encoding":{"y":{"field":"a","type":"quantitative","axis":null},"y2":{"field":"b"}}},
{"mark":{"type":"rule"},"encoding":{"y":{"field":"c","type":"quantitative","axis":null},"y2":{"field":"x"}}},
{"mark":{"type":"bar"},"encoding":{"y":{"field":"b","type":"quantitative","scale":{"domain":[0,4000],"range":[236,30],"nice":false},"axis":{"offset":-42,"values":[0,500,1000,1500,2000,2500,3000,3500,4000]}},"y2":{"field":"c"}}},
{"mark":{"type":"tick","color":"#505050","thickness":0.8,"size":7},"encoding":{"y":{"field":"m","type":"quantitative","axis":{"orient":"right","offset":-43,"grid":false,"values":[0,500,1000,1500,2000,2500,3000,3500,4000]}}}}
],"resolve":{"axis":{"y":"independent"}}},

{"width":378,"height":261,"data":{"name":"d2"},"title":"Banda 5",
"encoding":{"x":{"field":"t","type":"ordinal","scale":{"range":[42,336],"paddingInner":0.22,"paddingOuter":0.2},"axis":{"offset":-25}}},
"layer":[
{"mark":{"type":"bar","fillOpacity":0,"stroke":"#d0d0d0","strokeWidth":0.7},"encoding":{"y":{"field":"b","type":"quantitative","axis":null}}},
{"mark":{"type":"rule","color":"#909090"},"encoding":{"y":{"field":"a","type":"quantitative","axis":null},"y2":{"field":"b"}}},
{"mark":{"type":"rule"},"encoding":{"y":{"field":"c","type":"quantitative","axis":null},"y2":{"field":"x"}}},
{"mark":{"type":"bar"},"encoding":{"y":{"field":"b","type":"quantitative","scale":{"domain":[0,3000],"range":[236,30],"nice":false},"axis":{"offset":-42,"values":[0,500,1000,1500,2000,2500,3000]}},"y2":{"field":"c"}}},
{"mark":{"type":"tick","color":"#505050","thickness":0.8,"size":7},"encoding":{"y":{"field":"m","type":"quantitative","axis":{"orient":"right","offset":-42,"grid":false,"values":[0,500,1000,1500,2000,2500,3000]}}}}
],"resolve":{"axis":{"y":"independent"}}},

{"width":366,"height":261,"data":{"name":"d3"},"title":"Banda 5",
"encoding":{"x":{"field":"t","type":"ordinal","scale":{"range":[42,336],"paddingInner":0.22,"paddingOuter":0.2},"axis":{"offset":-25}}},
"layer":[
{"mark":{"type":"bar","fillOpacity":0,"stroke":"#d0d0d0","strokeWidth":0.7},"encoding":{"y":{"field":"b","type":"quantitative","axis":null}}},
{"mark":{"type":"rule","color":"#909090"},"encoding":{"y":{"field":"a","type":"quantitative","axis":null},"y2":{"field":"b"}}},
{"mark":{"type":"rule"},"encoding":{"y":{"field":"c","type":"quantitative","axis":null},"y2":{"field":"x"}}},
{"mark":{"type":"bar"},"encoding":{"y":{"field":"b","type":"quantitative","scale":{"domain":[0,1700],"range":[236,30],"nice":false},"axis":{"offset":-42,"values":[0,200,400,600,800,1000,1200,1400,1600]}},"y2":{"field":"c"}}},
{"mark":{"type":"tick","color":"#505050","thickness":0.8,"size":7},"encoding":{"y":{"field":"m","type":"quantitative","axis":{"orient":"right","offset":-30,"grid":false,"values":[0,200,400,600,800,1000,1200,1400,1600]}}}}
],"resolve":{"axis":{"y":"independent"}}},

{"width":380,"height":259,"data":{"name":"d4"},"title":"Greenness",
"encoding":{"x":{"field":"t","type":"ordinal","scale":{"range":[42,337],"paddingInner":0.22,"paddingOuter":0.2},"axis":{"offset":-24}}},
"layer":[
{"mark":{"type":"bar","fillOpacity":0,"stroke":"#d0d0d0","strokeWidth":0.7},"encoding":{"y":{"field":"b","type":"quantitative","axis":null}}},
{"mark":{"type":"rule","color":"#909090"},"encoding":{"y":{"field":"a","type":"quantitative","axis":null},"y2":{"field":"b"}}},
{"mark":{"type":"rule"},"encoding":{"y":{"field":"c","type":"quantitative","axis":null},"y2":{"field":"x"}}},
{"mark":{"type":"bar"},"encoding":{"y":{"field":"b","type":"quantitative","scale":{"domain":[0,3000],"range":[235,30],"nice":false},"axis":{"offset":-42,"values":[0,500,1000,1500,2000,2500,3000]}},"y2":{"field":"c"}}},
{"mark":{"type":"tick","color":"#505050","thickness":0.8,"size":7},"encoding":{"y":{"field":"m","type":"quantitative","axis":{"orient":"right","offset":-43,"grid":false,"values":[0,500,1000,1500,2000,2500,3000]}}}}
],"resolve":{"axis":{"y":"independent"}}},

{"width":378,"height":259,"data":{"name":"d5"},"title":"Greenness",
"encoding":{"x":{"field":"t","type":"ordinal","scale":{"range":[42,336],"paddingInner":0.22,"paddingOuter":0.2},"axis":{"offset":-24}}},
"layer":[
{"mark":{"type":"bar","fillOpacity":0,"stroke":"#d0d0d0","strokeWidth":0.7},"encoding":{"y":{"field":"b","type":"quantitative","axis":null}}},
{"mark":{"type":"rule","color":"#909090"},"encoding":{"y":{"field":"a","type":"quantitative","axis":null},"y2":{"field":"b"}}},
{"mark":{"type":"rule"},"encoding":{"y":{"field":"c","type":"quantitative","axis":null},"y2":{"field":"x"}}},
{"mark":{"type":"bar"},"encoding":{"y":{"field":"b","type":"quantitative","scale":{"domain":[0,3500],"range":[235,30],"nice":false},"axis":{"offset":-42,"values":[0,500,1000,1500,2000,2500,3000,3500]}},"y2":{"field":"c"}}},
{"mark":{"type":"tick","color":"#505050","thickness":0.8,"size":7},"encoding":{"y":{"field":"m","type":"quantitative","axis":{"orient":"right","offset":-42,"grid":false,"values":[0,500,1000,1500,2000,2500,3000,3500]}}}}
],"resolve":{"axis":{"y":"independent"}}},

{"width":366,"height":259,"data":{"name":"d6"},"title":"Greenness",
"encoding":{"x":{"field":"t","type":"ordinal","scale":{"range":[42,336],"paddingInner":0.22,"paddingOuter":0.2},"axis":{"offset":-24}}},
"layer":[
{"mark":{"type":"bar","fillOpacity":0,"stroke":"#d0d0d0","strokeWidth":0.7},"encoding":{"y":{"field":"b","type":"quantitative","axis":null}}},
{"mark":{"type":"rule","color":"#909090"},"encoding":{"y":{"field":"a","type":"quantitative","axis":null},"y2":{"field":"b"}}},
{"mark":{"type":"rule"},"encoding":{"y":{"field":"c","type":"quantitative","axis":null},"y2":{"field":"x"}}},
{"mark":{"type":"bar"},"encoding":{"y":{"field":"b","type":"quantitative","scale":{"domain":[0,2500],"range":[235,30],"nice":false},"axis":{"offset":-42,"values":[0,500,1000,1500,2000,2500]}},"y2":{"field":"c"}}},
{"mark":{"type":"tick","color":"#505050","thickness":0.8,"size":7},"encoding":{"y":{"field":"m","type":"quantitative","axis":{"orient":"right","offset":-30,"grid":false,"values":[0,500,1000,1500,2000,2500]}}}}
],"resolve":{"axis":{"y":"independent"}}},

{"width":380,"height":259,"data":{"name":"d7"},"title":"NBR",
"encoding":{"x":{"field":"t","type":"ordinal","scale":{"range":[42,337],"paddingInner":0.22,"paddingOuter":0.2},"axis":{"offset":-25}}},
"layer":[
{"mark":{"type":"bar","fillOpacity":0,"stroke":"#d0d0d0","strokeWidth":0.7},"encoding":{"y":{"field":"b","type":"quantitative","axis":null}}},
{"mark":{"type":"rule","color":"#909090"},"encoding":{"y":{"field":"a","type":"quantitative","axis":null},"y2":{"field":"b"}}},
{"mark":{"type":"rule"},"encoding":{"y":{"field":"c","type":"quantitative","axis":null},"y2":{"field":"x"}}},
{"mark":{"type":"bar"},"encoding":{"y":{"field":"b","type":"quantitative","scale":{"domain":[0,900],"range":[234,30],"nice":false},"axis":{"offset":-42,"values":[0,100,200,300,400,500,600,700,800,900]}},"y2":{"field":"c"}}},
{"mark":{"type":"tick","color":"#505050","thickness":0.8,"size":7},"encoding":{"y":{"field":"m","type":"quantitative","axis":{"orient":"right","offset":-43,"grid":false,"values":[0,100,200,300,400,500,600,700,800,900]}}}}
],"resolve":{"axis":{"y":"independent"}}},

{"width":378,"height":259,"data":{"name":"d8"},"title":"NBR",
"encoding":{"x":{"field":"t","type":"ordinal","scale":{"range":[42,336],"paddingInner":0.22,"paddingOuter":0.2},"axis":{"offset":-25}}},
"layer":[
{"mark":{"type":"bar","fillOpacity":0,"stroke":"#d0d0d0","strokeWidth":0.7},"encoding":{"y":{"field":"b","type":"quantitative","axis":null}}},
{"mark":{"type":"rule","color":"#909090"},"encoding":{"y":{"field":"a","type":"quantitative","axis":null},"y2":{"field":"b"}}},
{"mark":{"type":"rule"},"encoding":{"y":{"field":"c","type":"quantitative","axis":null},"y2":{"field":"x"}}},
{"mark":{"type":"bar"},"encoding":{"y":{"field":"b","type":"quantitative","scale":{"domain":[0,900],"range":[234,30],"nice":false},"axis":{"offset":-42,"values":[0,100,200,300,400,500,600,700,800,900]}},"y2":{"field":"c"}}},
{"mark":{"type":"tick","color":"#505050","thickness":0.8,"size":7},"encoding":{"y":{"field":"m","type":"quantitative","axis":{"orient":"right","offset":-42,"grid":false,"values":[0,100,200,300,400,500,600,700,800,900]}}}}
],"resolve":{"axis":{"y":"independent"}}},

{"width":366,"height":259,"data":{"name":"d9"},"title":"NBR",
"encoding":{"x":{"field":"t","type":"ordinal","scale":{"range":[42,336],"paddingInner":0.22,"paddingOuter":0.2},"axis":{"offset":-25}}},
"layer":[
{"mark":{"type":"bar","fillOpacity":0,"stroke":"#d0d0d0","strokeWidth":0.7},"encoding":{"y":{"field":"b","type":"quantitative","axis":null}}},
{"mark":{"type":"rule","color":"#909090"},"encoding":{"y":{"field":"a","type":"quantitative","axis":null},"y2":{"field":"b"}}},
{"mark":{"type":"rule"},"encoding":{"y":{"field":"c","type":"quantitative","axis":null},"y2":{"field":"x"}}},
{"mark":{"type":"bar"},"encoding":{"y":{"field":"b","type":"quantitative","scale":{"domain":[0,900],"range":[234,30],"nice":false},"axis":{"offset":-42,"values":[0,100,200,300,400,500,600,700,800,900]}},"y2":{"field":"c"}}},
{"mark":{"type":"tick","color":"#505050","thickness":0.8,"size":7},"encoding":{"y":{"field":"m","type":"quantitative","axis":{"orient":"right","offset":-30,"grid":false,"values":[0,100,200,300,400,500,600,700,800,900]}}}}
],"resolve":{"axis":{"y":"independent"}}},

{"width":380,"height":260,"data":{"name":"d10"},"title":"NDVI",
"encoding":{"x":{"field":"t","type":"ordinal","scale":{"range":[42,337],"paddingInner":0.22,"paddingOuter":0.2},"axis":{"offset":-26}}},
"layer":[
{"mark":{"type":"bar","fillOpacity":0,"stroke":"#d0d0d0","strokeWidth":0.7},"encoding":{"y":{"field":"b","type":"quantitative","axis":null}}},
{"mark":{"type":"rule","color":"#909090"},"encoding":{"y":{"field":"a","type":"quantitative","axis":null},"y2":{"field":"b"}}},
{"mark":{"type":"rule"},"encoding":{"y":{"field":"c","type":"quantitative","axis":null},"y2":{"field":"x"}}},
{"mark":{"type":"bar"},"encoding":{"y":{"field":"b","type":"quantitative","scale":{"domain":[0,900],"range":[234,30],"nice":false},"axis":{"offset":-42,"values":[0,100,200,300,400,500,600,700,800,900]}},"y2":{"field":"c"}}},
{"mark":{"type":"tick","color":"#505050","thickness":0.8,"size":7},"encoding":{"y":{"field":"m","type":"quantitative","axis":{"orient":"right","offset":-43,"grid":false,"values":[0,100,200,300,400,500,600,700,800,900]}}}}
],"resolve":{"axis":{"y":"independent"}}},

{"width":378,"height":260,"data":{"name":"d11"},"title":"NDVI",
"encoding":{"x":{"field":"t","type":"ordinal","scale":{"range":[42,336],"paddingInner":0.22,"paddingOuter":0.2},"axis":{"offset":-26}}},
"layer":[
{"mark":{"type":"bar","fillOpacity":0,"stroke":"#d0d0d0","strokeWidth":0.7},"encoding":{"y":{"field":"b","type":"quantitative","axis":null}}},
{"mark":{"type":"rule","color":"#909090"},"encoding":{"y":{"field":"a","type":"quantitative","axis":null},"y2":{"field":"b"}}},
{"mark":{"type":"rule"},"encoding":{"y":{"field":"c","type":"quantitative","axis":null},"y2":{"field":"x"}}},
{"mark":{"type":"bar"},"encoding":{"y":{"field":"b","type":"quantitative","scale":{"domain":[0,1000],"range":[234,30],"nice":false},"axis":{"offset":-42,"values":[0,100,200,300,400,500,600,700,800,900,1000]}},"y2":{"field":"c"}}},
{"mark":{"type":"tick","color":"#505050","thickness":0.8,"size":7},"encoding":{"y":{"field":"m","type":"quantitative","axis":{"orient":"right","offset":-42,"grid":false,"values":[0,100,200,300,400,500,600,700,800,900,1000]}}}}
],"resolve":{"axis":{"y":"independent"}}},

{"width":366,"height":260,"data":{"name":"d12"},"title":"NDVI",
"encoding":{"x":{"field":"t","type":"ordinal","scale":{"range":[42,336],"paddingInner":0.22,"paddingOuter":0.2},"axis":{"offset":-26}}},
"layer":[
{"mark":{"type":"bar","fillOpacity":0,"stroke":"#d0d0d0","strokeWidth":0.7},"encoding":{"y":{"field":"b","type":"quantitative","axis":null}}},
{"mark":{"type":"rule","color":"#909090"},"encoding":{"y":{"field":"a","type":"quantitative","axis":null},"y2":{"field":"b"}}},
{"mark":{"type":"rule"},"encoding":{"y":{"field":"c","type":"quantitative","axis":null},"y2":{"field":"x"}}},
{"mark":{"type":"bar"},"encoding":{"y":{"field":"b","type":"quantitative","scale":{"domain":[0,900],"range":[234,30],"nice":false},"axis":{"offset":-42,"values":[0,100,200,300,400,500,600,700,800,900]}},"y2":{"field":"c"}}},
{"mark":{"type":"tick","color":"#505050","thickness":0.8,"size":7},"encoding":{"y":{"field":"m","type":"quantitative","axis":{"orient":"right","offset":-30,"grid":false,"values":[0,100,200,300,400,500,600,700,800,900]}}}}
],"resolve":{"axis":{"y":"independent"}}},

{"width":380,"height":253,"data":{"name":"d13"},"title":"Wetness",
"encoding":{"x":{"field":"t","type":"ordinal","scale":{"range":[42,337],"paddingInner":0.22,"paddingOuter":0.2},"axis":{"orient":"top","offset":-55}}},
"layer":[
{"mark":{"type":"bar","fillOpacity":0,"stroke":"#d0d0d0","strokeWidth":0.7},"encoding":{"y":{"field":"c","type":"quantitative","axis":null}}},
{"mark":{"type":"rule","color":"#909090"},"encoding":{"y":{"field":"a","type":"quantitative","axis":null},"y2":{"field":"b"}}},
{"mark":{"type":"rule"},"encoding":{"y":{"field":"c","type":"quantitative","axis":null},"y2":{"field":"x"}}},
{"mark":{"type":"bar"},"encoding":{"y":{"field":"b","type":"quantitative","scale":{"domain":[-2200,300],"range":[240,30],"nice":false},"axis":{"offset":-42,"values":[-2200,-1700,-1200,-700,-200]}},"y2":{"field":"c"}}},
{"mark":{"type":"tick","color":"#505050","thickness":0.8,"size":7},"encoding":{"y":{"field":"m","type":"quantitative","axis":{"orient":"right","offset":-43,"grid":false,"values":[-2200,-1700,-1200,-700,-200]}}}}
],"resolve":{"axis":{"y":"independent"}}},

{"width":378,"height":253,"data":{"name":"d14"},"title":"Wetness",
"encoding":{"x":{"field":"t","type":"ordinal","scale":{"range":[42,336],"paddingInner":0.22,"paddingOuter":0.2},"axis":{"offset":-243}}},
"layer":[
{"mark":{"type":"bar","fillOpacity":0,"stroke":"#d0d0d0","strokeWidth":0.7},"encoding":{"y":{"field":"c","type":"quantitative","axis":null}}},
{"mark":{"type":"rule","color":"#909090"},"encoding":{"y":{"field":"a","type":"quantitative","axis":null},"y2":{"field":"b"}}},
{"mark":{"type":"rule"},"encoding":{"y":{"field":"c","type":"quantitative","axis":null},"y2":{"field":"x"}}},
{"mark":{"type":"bar"},"encoding":{"y":{"field":"b","type":"quantitative","scale":{"domain":[-2000,0],"range":[235,10],"nice":false},"axis":{"offset":-42,"values":[-2000,-1800,-1600,-1400,-1200,-1000,-800,-600,-400,-200,0]}},"y2":{"field":"c"}}},
{"mark":{"type":"tick","color":"#505050","thickness":0.8,"size":7},"encoding":{"y":{"field":"m","type":"quantitative","axis":{"orient":"right","offset":-42,"grid":false,"values":[-2000,-1800,-1600,-1400,-1200,-1000,-800,-600,-400,-200,0]}}}},
{"data":{"name":"legb"},"mark":{"type":"rule","color":"#333333"},"encoding":{"y":{"field":"a","type":"quantitative","axis":null},"y2":{"field":"x"}}},
{"data":{"name":"legb"},"mark":{"type":"bar","fill":"#ffffff","stroke":"#333333","strokeWidth":1,"size":15},"encoding":{"y":{"field":"b","type":"quantitative","axis":null},"y2":{"field":"c"}}},
{"data":{"name":"legb"},"mark":{"type":"tick","color":"#333333","thickness":1,"size":15},"encoding":{"y":{"field":"m","type":"quantitative","axis":null}}},
{"data":{"name":"legh"},"mark":{"type":"text","font":"Liberation Sans","fontSize":15,"fontStyle":"italic","align":"right","color":"#222222"},"encoding":{"y":{"field":"v","type":"quantitative","axis":null},"text":{"field":"s","type":"nominal"}}},
{"data":{"name":"legl"},"mark":{"type":"text","font":"Liberation Sans","fontSize":11,"align":"left","dx":1,"color":"#222222"},"encoding":{"y":{"field":"v","type":"quantitative","axis":null},"text":{"field":"s","type":"nominal"}}}
],"resolve":{"axis":{"y":"independent"}}},

{"width":366,"height":253,"data":{"name":"d15"},"title":"Wetness",
"encoding":{"x":{"field":"t","type":"ordinal","scale":{"range":[42,336],"paddingInner":0.22,"paddingOuter":0.2},"axis":{"offset":-243}}},
"layer":[
{"mark":{"type":"bar","fillOpacity":0,"stroke":"#d0d0d0","strokeWidth":0.7},"encoding":{"y":{"field":"c","type":"quantitative","axis":null}}},
{"mark":{"type":"rule","color":"#909090"},"encoding":{"y":{"field":"a","type":"quantitative","axis":null},"y2":{"field":"b"}}},
{"mark":{"type":"rule"},"encoding":{"y":{"field":"c","type":"quantitative","axis":null},"y2":{"field":"x"}}},
{"mark":{"type":"bar"},"encoding":{"y":{"field":"b","type":"quantitative","scale":{"domain":[-500,0],"range":[235,10],"nice":false},"axis":{"offset":-42,"values":[-500,-450,-400,-350,-300,-250,-200,-150,-100,-50,0]}},"y2":{"field":"c"}}},
{"mark":{"type":"tick","color":"#505050","thickness":0.8,"size":7},"encoding":{"y":{"field":"m","type":"quantitative","axis":{"orient":"right","offset":-30,"grid":false,"values":[-500,-450,-400,-350,-300,-250,-200,-150,-100,-50,0]}}}}
],"resolve":{"axis":{"y":"independent"}}}
]
}
